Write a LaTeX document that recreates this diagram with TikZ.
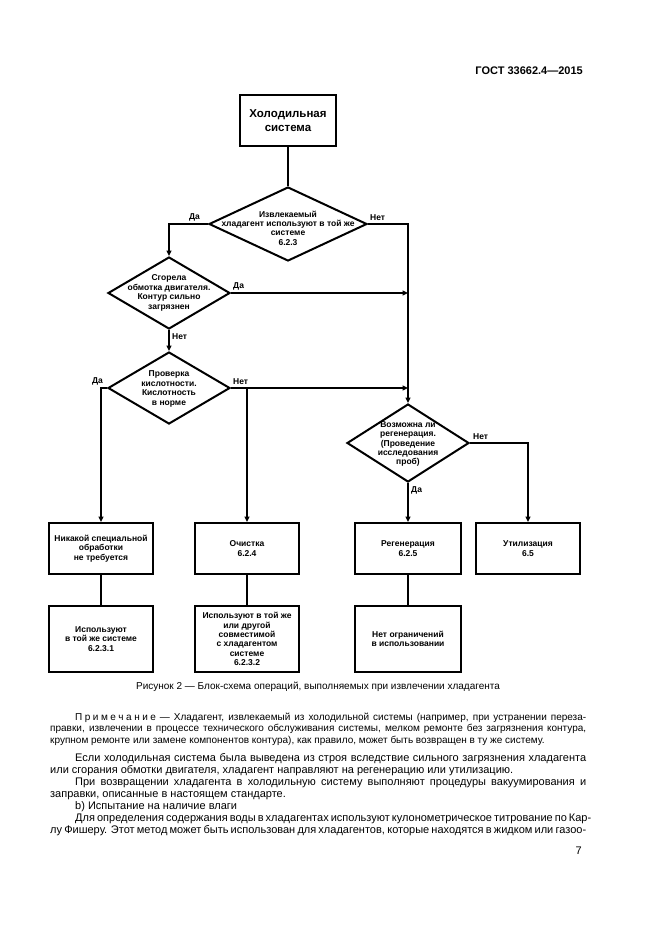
\documentclass[tikz,border=0pt]{standalone}
\usepackage{fontspec}
\setmainfont{Liberation Sans}
\usetikzlibrary{arrows.meta,shapes.geometric}
\newcommand\ffbig{\fontsize{11.5}{14.5}\selectfont\bfseries}
\newcommand\ffdia{\fontsize{8.5}{9.4}\selectfont\bfseries}
\newcommand\ffnote{\fontsize{10}{11.5}\selectfont}
\newcommand\ffbody{\fontsize{11}{12}\selectfont}
\newcommand\ffhdr{\fontsize{11}{12}\selectfont\bfseries}
\newcommand\lsp{\kern0.25em}
\begin{document}
\begin{tikzpicture}[x=1pt,y=-1pt,
  ln/.style={line width=2pt},
  arr/.style={line width=2pt,-{Triangle[length=5.5pt,width=5pt]}},
  box/.style={draw,line width=2pt,inner sep=0pt,align=center,font=\ffdia,minimum width=104},
  rowa/.style={minimum height=51},
  rowb/.style={minimum height=66},
  dia/.style={diamond,draw,line width=2pt,inner sep=0pt},
  dtxt/.style={inner sep=0pt,align=center,font=\ffdia},
  lbl/.style={inner sep=0pt,font=\ffdia},
  txt/.style={inner sep=0pt,anchor=base west},
]
\useasboundingbox (0,0) rectangle (661,935);
\fill[white] (0,0) rectangle (661,935);

\node[txt,anchor=base east,font=\ffhdr] (hdr) at (583,74) {ГОСТ 33662.4—2015};

% top box and decisions
\node[box,minimum width=96,minimum height=51,font=\ffbig] (top) at (288,120.5) {Холодильная\\система};

\node[dia,minimum width=158,minimum height=74] (d1) at (288,224) {};
\node[dtxt] (d1t) at (288,228) {Извлекаемый\\хладагент используют в той же\\системе\\6.2.3};

\node[dia,minimum width=122,minimum height=72] (d2) at (169,293) {};
\node[dtxt] (d2t) at (169,293) {Сгорела\\обмотка двигателя.\\Контур сильно\\загрязнен};

\node[dia,minimum width=122,minimum height=72] (d3) at (169,388) {};
\node[dtxt] (d3t) at (169,389) {Проверка\\кислотности.\\Кислотность\\в норме};

\node[dia,minimum width=122,minimum height=78] (d4) at (408,443) {};
\node[dtxt] (d4t) at (408,444) {Возможна ли\\регенерация.\\(Проведение\\исследования\\проб)};

% row 1
\node[box,rowa] (b1) at (101,548.5) {Никакой специальной\\обработки\\не требуется};
\node[box,rowa] (b2) at (247,548.5) {Очистка\\6.2.4};
\node[box,rowa,minimum width=106] (b3) at (408,548.5) {Регенерация\\6.2.5};
\node[box,rowa] (b4) at (528,548.5) {Утилизация\\6.5};

% row 2
\node[box,rowb] (c1) at (101,639) {Используют\\в той же системе\\6.2.3.1};
\node[box,rowb] (c2) at (247,639) {Используют в той же\\или другой\\совместимой\\с хладагентом\\системе\\6.2.3.2};
\node[box,rowb,minimum width=106] (c3) at (408,639) {Нет ограничений\\в использовании};

% connectors
\draw[ln] (top.south) -- (d1.north);
\draw[arr] (d1.west) -| (d2.north);
\draw[arr] (d1.east) -| (d4.north);
\draw[arr] (d2.east) -- (d2.east -| d4.north);
\draw[arr] (d2.south) -- (d3.north);
\draw[arr] (d3.east) -- (d3.east -| d4.north);
\draw[arr] (d3.east -| b2.north) -- (b2.north);
\draw[arr] (d3.west) -| (b1.north);
\draw[arr] (d4.east) -| (b4.north);
\draw[arr] (d4.south) -- (b3.north);
\draw[ln] (b1.south) -- (c1.north);
\draw[ln] (b2.south) -- (c2.north);
\draw[ln] (b3.south) -- (c3.north);

% labels
\node[lbl,anchor=south east] (l1) at ([shift={(-8,-3)}]d1.west) {Да};
\node[lbl,anchor=south west] (l2) at ([shift={(2,-3)}]d1.east) {Нет};
\node[lbl,anchor=south west] (l3) at ([shift={(2,-3)}]d2.east) {Да};
\node[lbl,anchor=north west] (l4) at ([shift={(3,3)}]d2.south) {Нет};
\node[lbl,anchor=south east] (l5) at ([shift={(-4,-3)}]d3.west) {Да};
\node[lbl,anchor=south west] (l6) at ([shift={(2,-3)}]d3.east) {Нет};
\node[lbl,anchor=south west] (l7) at ([shift={(3,-3)}]d4.east) {Нет};
\node[lbl,anchor=north west] (l8) at ([shift={(3,3)}]d4.south) {Да};

% page text
\node[txt,anchor=base,font=\ffnote] (cap) at (318,689) {Рисунок 2 — Блок-схема операций, выполняемых при извлечении хладагента};

\node[txt,font=\ffnote] (n1) at (75,720) {\makebox[511pt][s]{П\lsp р\lsp и\lsp м\lsp е\lsp ч\lsp а\lsp н\lsp и\lsp е — Хладагент, извлекаемый из холодильной системы (например, при устранении переза-}};
\node[txt,font=\ffnote] (n2) at (50,731.5) {\makebox[536pt][s]{правки, извлечении в процессе технического обслуживания системы, мелком ремонте без загрязнения контура,}};
\node[txt,font=\ffnote] (n3) at (50,743) {крупном ремонте или замене компонентов контура), как правило, может быть возвращен в ту же систему.};

\node[txt,font=\ffbody] (p1) at (75,761) {\makebox[511pt][s]{Если холодильная система была выведена из строя вследствие сильного загрязнения хладагента}};
\node[txt,font=\ffbody] (p2) at (50,773) {или сгорания обмотки двигателя, хладагент направляют на регенерацию или утилизацию.};
\node[txt,font=\ffbody] (p3) at (75,785) {\makebox[511pt][s]{При возвращении хладагента в холодильную систему выполняют процедуры вакуумирования и}};
\node[txt,font=\ffbody] (p4) at (50,797) {заправки, описанные в настоящем стандарте.};
\node[txt,font=\ffbody] (p5) at (75,809) {b) Испытание на наличие влаги};
\node[txt,font=\ffbody] (p6) at (75,821) {\makebox[511pt][s]{Для определения содержания воды в хладагентах используют кулонометрическое титрование по Кар-}};
\node[txt,font=\ffbody] (p7) at (50,833) {\makebox[536pt][s]{лу Фишеру. Этот метод может быть использован для хладагентов, которые находятся в жидком или газоо-}};
\node[txt,anchor=base east,font=\ffbody] (pg) at (582,854) {7};
\end{tikzpicture}
\end{document}
